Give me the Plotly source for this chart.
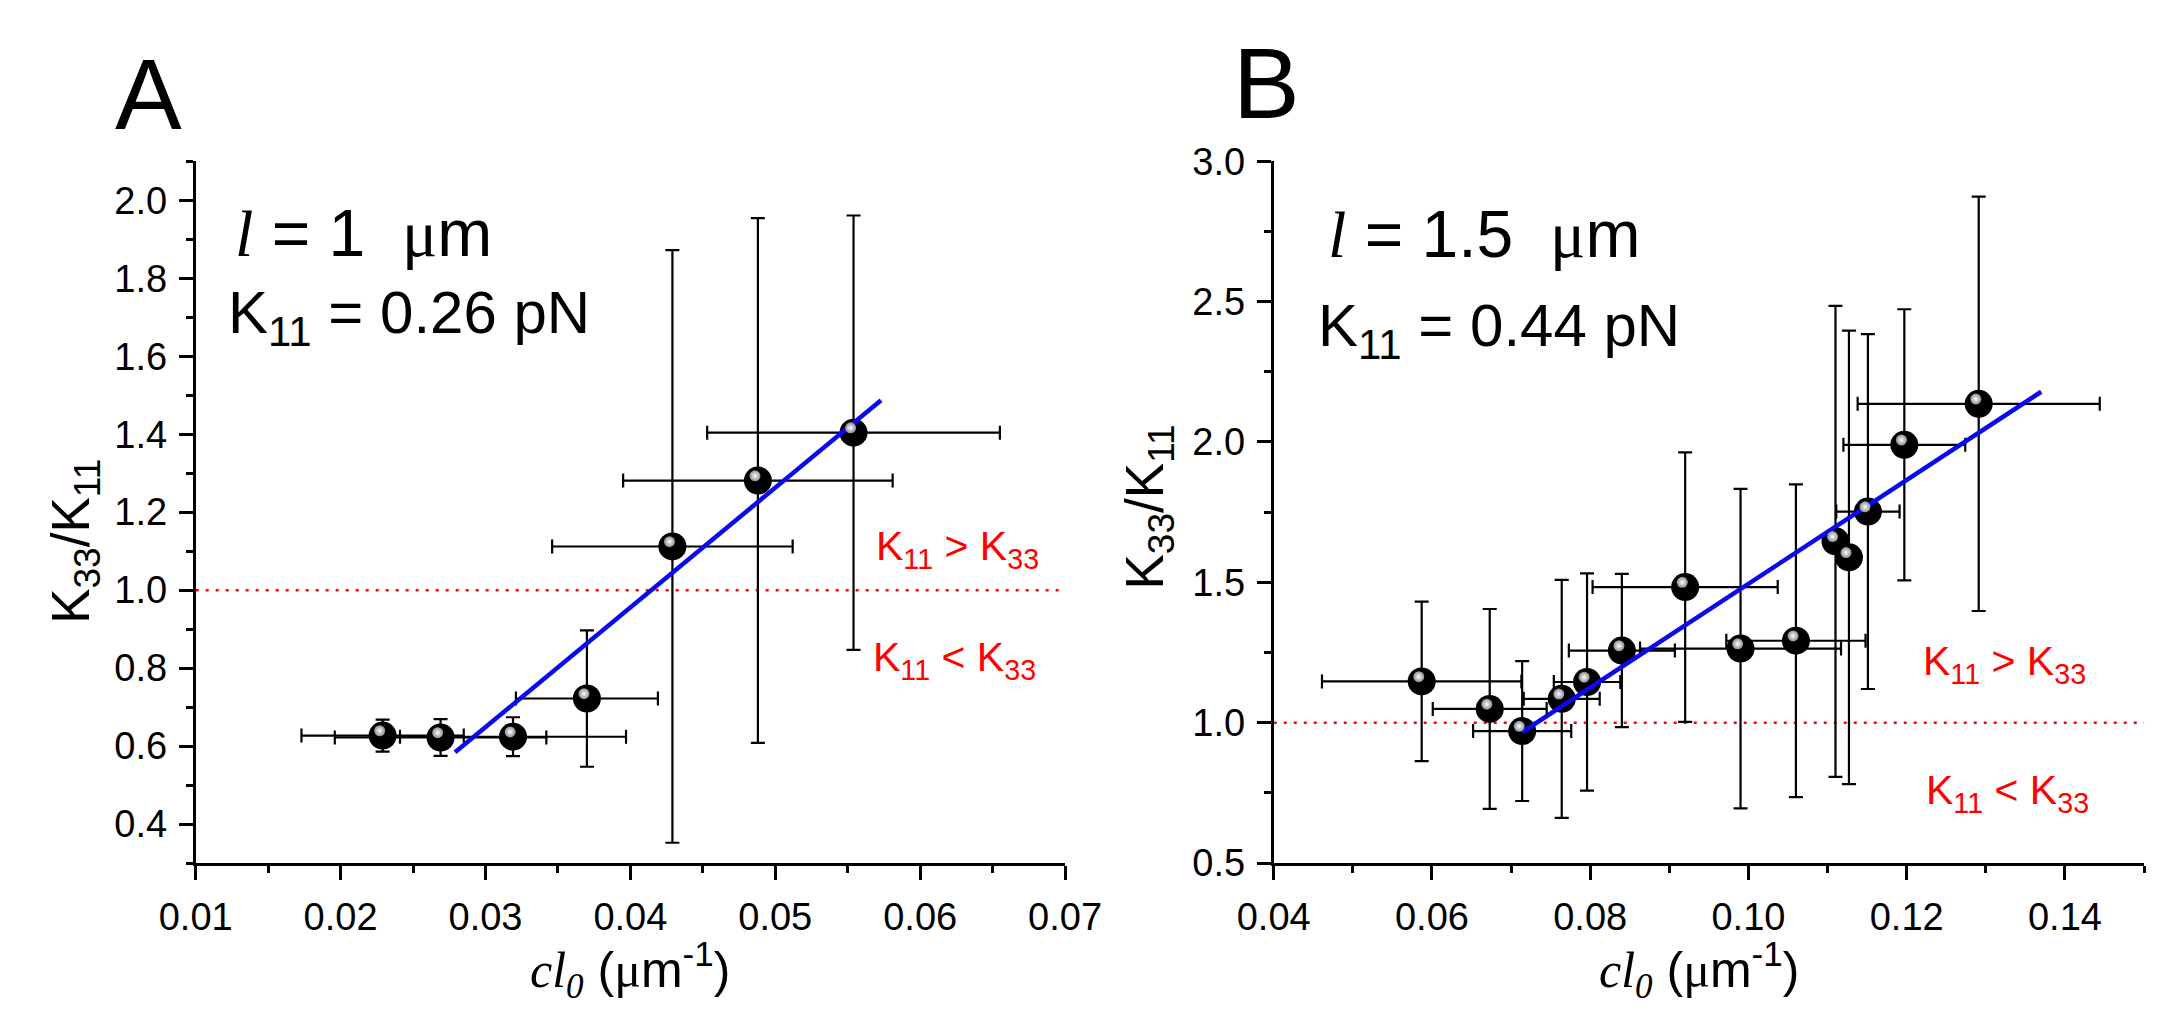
import plotly.graph_objects as go

# ---- panel A : l = 1 um ----
a_x = [0.0229, 0.0269, 0.0319, 0.0370, 0.0429, 0.0488, 0.0554]
a_y = [0.627, 0.622, 0.624, 0.722, 1.112, 1.281, 1.404]
a_xerr = [0.0056, 0.0073, 0.0078, 0.0049, 0.0083, 0.0093, 0.0101]
a_yerr = [0.041, 0.047, 0.050, 0.175, 0.760, 0.673, 0.557]
a_fit_x = [0.0279, 0.0573]
a_fit_y = [0.584, 1.487]
a_xrange = [0.01, 0.07]
a_yrange = [0.3, 2.1]

# ---- panel B : l = 1.5 um ----
b_x = [0.0587, 0.0673, 0.0714, 0.0764, 0.0796, 0.0840, 0.0920,
       0.0990, 0.1060, 0.1110, 0.1127, 0.1151, 0.1197, 0.1291]
b_y = [1.147, 1.049, 0.970, 1.085, 1.145, 1.257, 1.483,
       1.264, 1.292, 1.646, 1.589, 1.752, 1.990, 2.136]
b_xerr = [0.0126, 0.0072, 0.0062, 0.0048, 0.0042, 0.0067, 0.0117,
          0.0127, 0.0088, 0.0, 0.0, 0.0040, 0.0077, 0.0153]
b_yerr = [0.284, 0.356, 0.249, 0.424, 0.387, 0.273, 0.480,
          0.569, 0.557, 0.839, 0.808, 0.632, 0.483, 0.738]
b_fit_x = [0.0714, 0.1370]
b_fit_y = [0.966, 2.179]
b_xrange = [0.04, 0.15]
b_yrange = [0.5, 3.0]

W, H = 2175, 1016
SANS = "Liberation Sans"
SERIF = "Liberation Serif"

# plot boxes in pixels
a_dom = [156 / W, 1056 / W]
b_dom = [1272 / W, 2173 / W]
y_dom = [1 - 870 / H, 1 - 138 / H]
# sphere highlight offset (px)
hx, hy = -3 / W, 5 / H


def axis(rng, dtick, mdtick, fmt, ticks, labels, **kw):
    d = dict(range=rng, dtick=dtick, tick0=0, tickformat=fmt, ticks=ticks,
             ticklen=14, tickwidth=2.5, tickcolor="black", showline=True,
             linecolor="black", linewidth=3, showgrid=False, zeroline=False,
             showticklabels=labels,
             tickfont=dict(family=SANS, size=38, color="black"),
             minor=dict(ticks=ticks, ticklen=7, tickwidth=2.5, dtick=mdtick,
                        tickcolor="black", showgrid=False))
    d.update(kw)
    return d


def err(v):
    return dict(type="data", array=v, color="black", thickness=2.2, width=7)


fig = go.Figure()

for xs, ys, xe, ye, fx, fy, xa, ya, hxa, hya in [
        (a_x, a_y, a_xerr, a_yerr, a_fit_x, a_fit_y, "x", "y", "x5", "y5"),
        (b_x, b_y, b_xerr, b_yerr, b_fit_x, b_fit_y, "x3", "y3", "x6", "y6")]:
    fig.add_trace(go.Scatter(x=xs, y=ys, mode="markers", xaxis=xa, yaxis=ya,
                             error_x=err(xe), error_y=err(ye),
                             marker=dict(size=28, color="black", line_width=0),
                             showlegend=False))
    fig.add_trace(go.Scatter(x=fx, y=fy, mode="lines", xaxis=xa, yaxis=ya,
                             line=dict(color="#0a0aee", width=4.5),
                             showlegend=False))
    # highlight on the spheres
    fig.add_trace(go.Scatter(x=xs, y=ys, mode="markers", xaxis=hxa, yaxis=hya,
                             marker=dict(size=11, color="#8c8c8c", line_width=0,
                                         gradient=dict(type="radial", color="white")),
                             showlegend=False))

fig.update_layout(
    width=W, height=H, plot_bgcolor="rgba(0,0,0,0)", paper_bgcolor="white",
    margin=dict(l=0, r=0, t=0, b=0),
    xaxis=axis(a_xrange, 0.01, 0.005, ".2f", "outside", True, domain=a_dom, anchor="y",
               ticklabelstandoff=4),
    yaxis=axis(a_yrange, 0.2, 0.1, ".1f", "outside", True, domain=y_dom, anchor="x",
               ticklabelstandoff=4),
    xaxis2=axis(a_xrange, 0.01, 0.005, ".2f", "inside", False, overlaying="x",
                side="top", anchor="y"),
    yaxis2=axis(a_yrange, 0.2, 0.1, ".1f", "inside", False, overlaying="y",
                side="right", anchor="x"),
    xaxis3=axis(b_xrange, 0.02, 0.01, ".2f", "outside", True, domain=b_dom, anchor="y3",
                ticklabelstandoff=4),
    yaxis3=axis(b_yrange, 0.5, 0.25, ".1f", "outside", True, domain=y_dom, anchor="x3",
                ticklabelstandoff=4),
    xaxis4=axis(b_xrange, 0.02, 0.01, ".2f", "inside", False, overlaying="x3",
                side="top", anchor="y3"),
    yaxis4=axis(b_yrange, 0.5, 0.25, ".1f", "inside", False, overlaying="y3",
                side="right", anchor="x3"),
    xaxis5=dict(range=a_xrange, domain=[a_dom[0] + hx, a_dom[1] + hx], anchor="y5", visible=False),
    yaxis5=dict(range=a_yrange, domain=[y_dom[0] + hy, y_dom[1] + hy], anchor="x5", visible=False),
    xaxis6=dict(range=b_xrange, domain=[b_dom[0] + hx, b_dom[1] + hx], anchor="y6", visible=False),
    yaxis6=dict(range=b_yrange, domain=[y_dom[0] + hy, y_dom[1] + hy], anchor="x6", visible=False),
)

# dotted K11 = K33 reference lines
for xr, yr in [("x", "y"), ("x3", "y3")]:
    fig.add_shape(type="line", xref=xr + " domain", x0=0, x1=1, yref=yr, y0=1, y1=1,
                  line=dict(color="red", width=2.5, dash="3px,7px"), layer="below")


def note(text, x, y, xr, yr, size, color="black", xanchor="left", angle=0):
    fig.add_annotation(text=text, x=x, y=y, xref=xr, yref=yr, showarrow=False,
                       xanchor=xanchor, yanchor="middle", textangle=angle,
                       font=dict(family=SANS, size=size, color=color))


mu = '<span style="font-family:%s">μ</span>' % SERIF
ell = '<span style="font-family:%s"><i>l</i></span>' % SERIF
xtitle = ('<span style="font-family:%s"><i>cl</i><sub><i>0</i></sub></span>'
          ' (%sm<sup>-1</sup>)' % (SERIF, mu))
ytitle = "K<sub>33</sub>/K<sub>11</sub>"

# panel letters
note("A", 70 / W, 1 - 68 / H, "paper", "paper", 100)
note("B", 1228 / W, 1 - 56 / H, "paper", "paper", 100)

# axis titles
note(ytitle, 31 / W, 1 - 534 / H, "paper", "paper", 53, xanchor="center", angle=-90)
note(ytitle, 1142 / W, 1 - 499 / H, "paper", "paper", 53, xanchor="center", angle=-90)
note(xtitle, 606 / W, 1 - 982 / H, "paper", "paper", 50, xanchor="center")
note(xtitle, 1712 / W, 1 - 982 / H, "paper", "paper", 50, xanchor="center")

# panel A labels
note(ell + " = 1  " + mu + "m", 0.0126, 1.915, "x", "y", 66)
note("K<sub>11</sub> = 0.26 pN", 0.0121, 1.70, "x", "y", 60)
note("K<sub>11</sub> > K<sub>33</sub>", 0.0626, 1.105, "x", "y", 41, "red", "center")
note("K<sub>11</sub> < K<sub>33</sub>", 0.0624, 0.82, "x", "y", 41, "red", "center")

# panel B labels
note(ell + " = 1.5  " + mu + "m", 0.0466, 2.74, "x3", "y3", 66)
note("K<sub>11</sub> = 0.44 pN", 0.0453, 2.40, "x3", "y3", 60)
note("K<sub>11</sub> > K<sub>33</sub>", 0.1323, 1.21, "x3", "y3", 41, "red", "center")
note("K<sub>11</sub> < K<sub>33</sub>", 0.1328, 0.75, "x3", "y3", 41, "red", "center")

fig.write_html("out.html")
